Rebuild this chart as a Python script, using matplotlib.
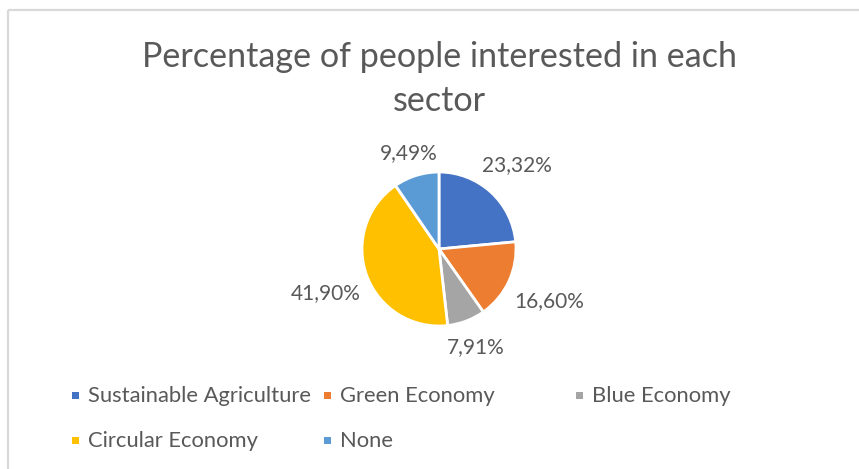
import matplotlib
matplotlib.use("Agg")
import matplotlib.pyplot as plt
from matplotlib.patches import Rectangle
from matplotlib.lines import Line2D
import numpy as np

# Data
categories = ["Sustainable Agriculture", "Green Economy", "Blue Economy",
              "Circular Economy", "None"]
shares = [23.32, 16.60, 7.91, 41.90, 9.49]
colors = ["#4472C4", "#ED7D31", "#A5A5A5", "#FFC000", "#5B9BD5"]
title_lines = ["Percentage of people interested in each", "sector"]

W, H = 859, 469
FONT = ["Lato", "DejaVu Sans"]
TEXT = "#595959"

fig = plt.figure(figsize=(W / 100, H / 100), dpi=100)
fig.patch.set_facecolor("white")


def fx(x):
    return x / W


def fy(y):
    return 1 - y / H


# Chart frame (top and left edges)
frame_kw = dict(color="#D9D9D9", lw=1.6, solid_capstyle="butt")
fig.add_artist(Line2D([fx(7.5), fx(7.5)], [fy(10.5), 0], **frame_kw))
fig.add_artist(Line2D([fx(7.5), 1], [fy(10.5), fy(10.5)], **frame_kw))

# Title
for k, line in enumerate(title_lines):
    fig.text(fx(439), fy(67 + 44 * k), line, ha="center", va="baseline",
             fontsize=24.6, color=TEXT, family=FONT)

# Pie
cx, cy, r = 439, 249, 77
ax = fig.add_axes([fx(cx - r), fy(cy + r), 2 * r / W, 2 * r / H])
wedges, _ = ax.pie(shares, colors=colors, startangle=90, counterclock=False,
                   radius=1, wedgeprops=dict(edgecolor="white", linewidth=2))
for w in wedges:
    w.set_clip_on(False)
ax.set_xlim(-1, 1)
ax.set_ylim(-1, 1)
ax.axis("off")

# Data labels placed just outside each wedge
label_fs = 15
renderer = fig.canvas.get_renderer()
gap = 86  # distance from centre to label box edge, px
digit_h = 0.72 * label_fs * 100 / 72
for w, v in zip(wedges, shares):
    txt = f"{v:.2f}%".replace(".", ",")
    t = fig.text(0, 0, txt, ha="center", va="baseline", fontsize=label_fs,
                 color=TEXT, family=FONT)
    bb = t.get_window_extent(renderer)
    half_w, half_h = bb.width / 2, digit_h / 2
    ang = np.deg2rad((w.theta1 + w.theta2) / 2)
    dx, dy = np.cos(ang), np.sin(ang)
    dist = gap + abs(dx) * half_w + abs(dy) * half_h
    lx = cx + dist * dx
    ly = cy - dist * dy
    t.set_position((fx(lx), fy(ly + half_h)))

# Legend laid out in equal-width columns
leg_fs = 15.8
col_w, row_h = 252, 45
x0, y0 = 72, 395
for i, (cat, col) in enumerate(zip(categories, colors)):
    c, rrow = i % 3, i // 3
    sx = x0 + c * col_w
    sy = y0 + rrow * row_h
    fig.add_artist(Rectangle((fx(sx), fy(sy + 3.5)), 7 / W, 7 / H,
                             transform=fig.transFigure, facecolor=col,
                             edgecolor="none"))
    fig.text(fx(sx + 16), fy(sy + 7), cat, ha="left", va="baseline",
             fontsize=leg_fs, color=TEXT, family=FONT)

fig.savefig("out.png", dpi=100)
